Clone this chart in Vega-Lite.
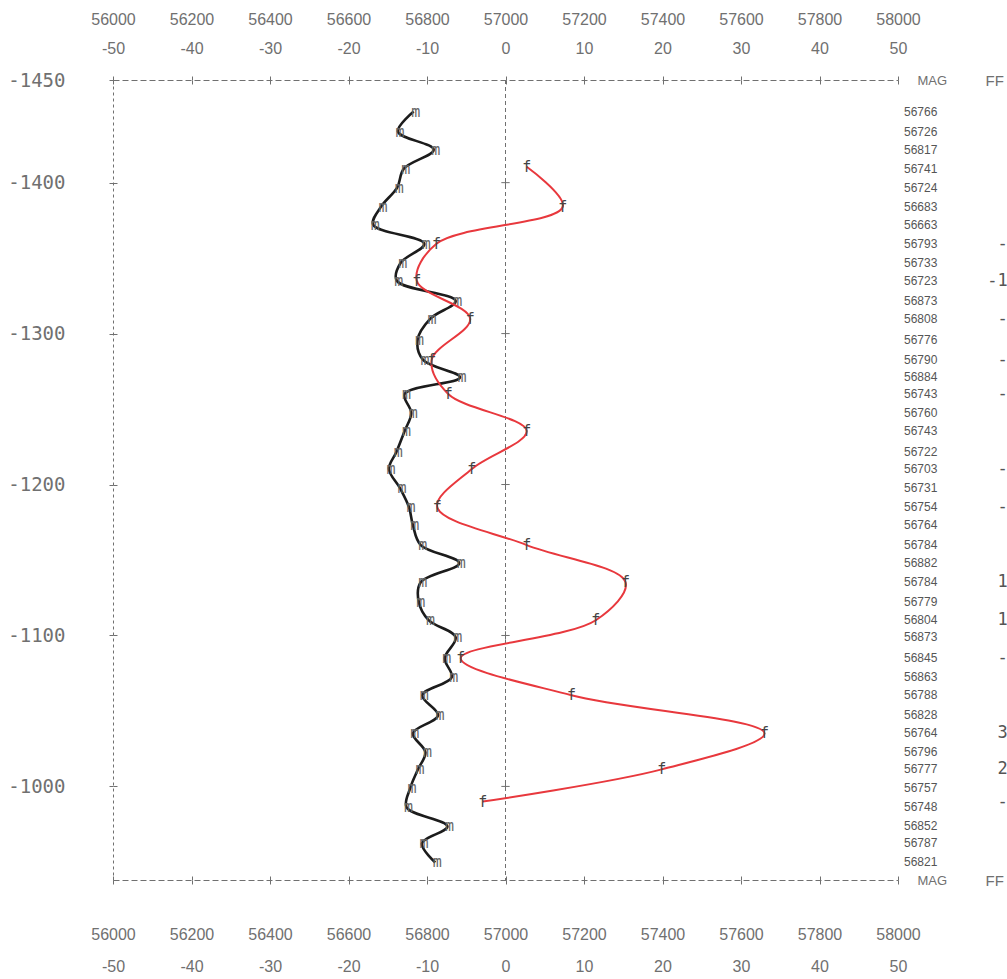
{
  "$schema": "https://vega.github.io/schema/vega-lite/v6.json",
  "width": 785,
  "height": 800,
  "autosize": {"type": "none"},
  "padding": {"left": 113, "top": 80, "right": 109, "bottom": 99},
  "background": "#ffffff",
  "config": {
    "locale": {"number": {"decimal": ".", "thousands": ",", "grouping": [3], "currency": ["$", ""], "minus": "-"}},
    "view": {"stroke": null},
    "axis": {"grid": false, "title": null, "labelColor": "#707070", "tickColor": "#707070", "domainColor": "#707070", "labelFlush": false, "labelOverlap": false, "labelBound": false, "tickWidth": 1, "domainWidth": 1}
  },
  "datasets": {
    "mag": [
      {"d": -1447.1, "m": 56766}, {"d": -1433.8, "m": 56726}, {"d": -1421.9, "m": 56817}, {"d": -1409.3, "m": 56741},
      {"d": -1396.7, "m": 56724}, {"d": -1384.1, "m": 56683}, {"d": -1372.1, "m": 56663}, {"d": -1359.5, "m": 56793},
      {"d": -1346.9, "m": 56733}, {"d": -1335.0, "m": 56723}, {"d": -1321.7, "m": 56873}, {"d": -1309.8, "m": 56808},
      {"d": -1295.9, "m": 56776}, {"d": -1282.6, "m": 56790}, {"d": -1271.0, "m": 56884}, {"d": -1260.0, "m": 56743},
      {"d": -1247.4, "m": 56760}, {"d": -1235.5, "m": 56743}, {"d": -1221.6, "m": 56722}, {"d": -1210.3, "m": 56703},
      {"d": -1197.7, "m": 56731}, {"d": -1185.1, "m": 56754}, {"d": -1173.1, "m": 56764}, {"d": -1159.9, "m": 56784},
      {"d": -1147.9, "m": 56882}, {"d": -1135.3, "m": 56784}, {"d": -1122.1, "m": 56779}, {"d": -1110.1, "m": 56804},
      {"d": -1098.8, "m": 56873}, {"d": -1084.9, "m": 56845}, {"d": -1072.3, "m": 56863}, {"d": -1060.4, "m": 56788},
      {"d": -1047.1, "m": 56828}, {"d": -1035.2, "m": 56764}, {"d": -1022.6, "m": 56796}, {"d": -1011.3, "m": 56777},
      {"d": -998.7, "m": 56757}, {"d": -986.1, "m": 56748}, {"d": -973.5, "m": 56852}, {"d": -962.2, "m": 56787},
      {"d": -949.6, "m": 56821}
    ],
    "ff": [
      {"d": -1410.5, "f": 2.7}, {"d": -1384.1, "f": 7.3}, {"d": -1359.5, "f": -8.8}, {"d": -1335.0, "f": -11.3},
      {"d": -1309.8, "f": -4.5}, {"d": -1282.6, "f": -9.4}, {"d": -1260.0, "f": -7.3}, {"d": -1235.5, "f": 2.7},
      {"d": -1210.3, "f": -4.3}, {"d": -1185.1, "f": -8.7}, {"d": -1159.9, "f": 2.7}, {"d": -1135.3, "f": 15.3},
      {"d": -1110.1, "f": 11.5}, {"d": -1084.9, "f": -5.7}, {"d": -1060.4, "f": 8.4}, {"d": -1035.2, "f": 33.0},
      {"d": -1011.3, "f": 19.9}, {"d": -990.0, "f": -2.9}
    ],
    "yt": [{"d": -1400}, {"d": -1300}, {"d": -1200}, {"d": -1100}, {"d": -1000}]
  },
  "resolve": {"scale": {"x": "independent"}, "axis": {"x": "independent", "y": "independent"}},
  "layer": [
    {
      "data": {"values": [{"z": 0}]},
      "mark": {"type": "rule", "strokeDash": [4, 3], "color": "#707070", "strokeWidth": 1},
      "encoding": {
        "x": {"field": "z", "type": "quantitative", "scale": {"domain": [-50, 50], "nice": false, "zero": false}, "axis": null}
      }
    },
    {
      "data": {"name": "yt"},
      "mark": {"type": "point", "shape": "M-1,0H1M0,-1V1", "size": 70, "filled": false, "stroke": "#707070", "strokeWidth": 1, "opacity": 1},
      "encoding": {
        "x": {"datum": 0, "type": "quantitative", "scale": {"domain": [-50, 50], "nice": false, "zero": false}, "axis": null},
        "y": {"field": "d", "type": "quantitative", "scale": {"domain": [-1468, -938], "reverse": true, "nice": false, "zero": false}, "axis": null}
      }
    },
    {
      "data": {"name": "mag"},
      "mark": {"type": "line", "interpolate": "catmull-rom", "color": "#1c1c1c", "strokeWidth": 2.6},
      "encoding": {
        "x": {"field": "m", "type": "quantitative", "scale": {"domain": [56000, 58000], "nice": false, "zero": false},
          "axis": {"orient": "top", "values": [56000, 56200, 56400, 56600, 56800, 57000, 57200, 57400, 57600, 57800, 58000], "format": "d", "tickSize": 4, "domainDash": [6, 3], "labelPadding": 49, "labelFont": "Liberation Sans", "labelFontSize": 16}},
        "y": {"field": "d", "type": "quantitative", "scale": {"domain": [-1468, -938], "reverse": true, "nice": false, "zero": false},
          "axis": {"orient": "left", "values": [-1468, -1400, -1300, -1200, -1100, -1000], "format": "d", "labelExpr": "datum.value < -1450 ? '-1450' : datum.label", "tickSize": 4, "domainDash": [3, 3], "labelPadding": 44, "labelFont": "DejaVu Sans Mono", "labelFontSize": 19}},
        "order": {"field": "d", "type": "quantitative"}
      }
    },
    {
      "data": {"name": "mag"},
      "mark": {"type": "text", "text": "m", "font": "DejaVu Sans Mono", "fontSize": 15, "color": "#666666", "dx": 2, "baseline": "middle", "align": "center"},
      "encoding": {
        "x": {"field": "m", "type": "quantitative", "scale": {"domain": [56000, 58000], "nice": false, "zero": false},
          "axis": {"orient": "bottom", "values": [56000, 56200, 56400, 56600, 56800, 57000, 57200, 57400, 57600, 57800, 58000], "format": "d", "tickSize": 4, "domainDash": [6, 3], "labelPadding": 42, "labelFont": "Liberation Sans", "labelFontSize": 16}},
        "y": {"field": "d", "type": "quantitative", "scale": {"domain": [-1468, -938], "reverse": true, "nice": false, "zero": false},
          "axis": {"orient": "left", "values": [-1400, -1300, -1200, -1100, -1000], "tickSize": -4, "labels": false, "domain": false}}
      }
    },
    {
      "data": {"name": "ff"},
      "mark": {"type": "line", "interpolate": "catmull-rom", "color": "#e8383d", "strokeWidth": 2},
      "encoding": {
        "x": {"field": "f", "type": "quantitative", "scale": {"domain": [-50, 50], "nice": false, "zero": false},
          "axis": {"orient": "top", "values": [-50, -40, -30, -20, -10, 0, 10, 20, 30, 40, 50], "format": "d", "tickSize": -4, "domain": false, "labelPadding": 28, "labelFont": "Liberation Sans", "labelFontSize": 16}},
        "y": {"field": "d", "type": "quantitative", "scale": {"domain": [-1468, -938], "reverse": true, "nice": false, "zero": false},
          "axis": {"orient": "right", "values": [-1468, -938], "labelExpr": "'MAG'", "ticks": false, "domain": false, "labelPadding": 19, "labelFont": "Liberation Sans", "labelFontSize": 13}},
        "order": {"field": "d", "type": "quantitative"}
      }
    },
    {
      "data": {"name": "ff"},
      "mark": {"type": "text", "text": "f", "font": "DejaVu Sans Mono", "fontSize": 15, "color": "#444444", "baseline": "middle", "align": "center"},
      "encoding": {
        "x": {"field": "f", "type": "quantitative", "scale": {"domain": [-50, 50], "nice": false, "zero": false},
          "axis": {"orient": "bottom", "values": [-50, -40, -30, -20, -10, 0, 10, 20, 30, 40, 50], "format": "d", "tickSize": -4, "domain": false, "labelPadding": 82, "labelFont": "Liberation Sans", "labelFontSize": 16}},
        "y": {"field": "d", "type": "quantitative", "scale": {"domain": [-1468, -938], "reverse": true, "nice": false, "zero": false},
          "axis": {"orient": "right", "values": [-1468, -938], "labelExpr": "'FF'", "ticks": false, "domain": false, "labelPadding": 87, "labelFont": "Liberation Sans", "labelFontSize": 15}}
      }
    },
    {
      "data": {"name": "mag"},
      "mark": {"type": "text", "font": "Liberation Sans", "fontSize": 12, "color": "#555555", "dx": 6, "baseline": "middle", "align": "left"},
      "encoding": {
        "x": {"datum": 58000, "type": "quantitative", "scale": {"domain": [56000, 58000], "nice": false, "zero": false}, "axis": null},
        "y": {"field": "d", "type": "quantitative", "scale": {"domain": [-1468, -938], "reverse": true, "nice": false, "zero": false}, "axis": null},
        "text": {"field": "m", "type": "quantitative", "format": "d"}
      }
    },
    {
      "data": {"name": "ff"},
      "mark": {"type": "text", "font": "DejaVu Sans Mono", "fontSize": 17, "color": "#555555", "dx": 120, "baseline": "middle", "align": "right"},
      "encoding": {
        "x": {"datum": 58000, "type": "quantitative", "scale": {"domain": [56000, 58000], "nice": false, "zero": false}, "axis": null},
        "y": {"field": "d", "type": "quantitative", "scale": {"domain": [-1468, -938], "reverse": true, "nice": false, "zero": false}, "axis": null},
        "text": {"field": "f", "type": "quantitative", "format": "d"}
      }
    }
  ]
}
